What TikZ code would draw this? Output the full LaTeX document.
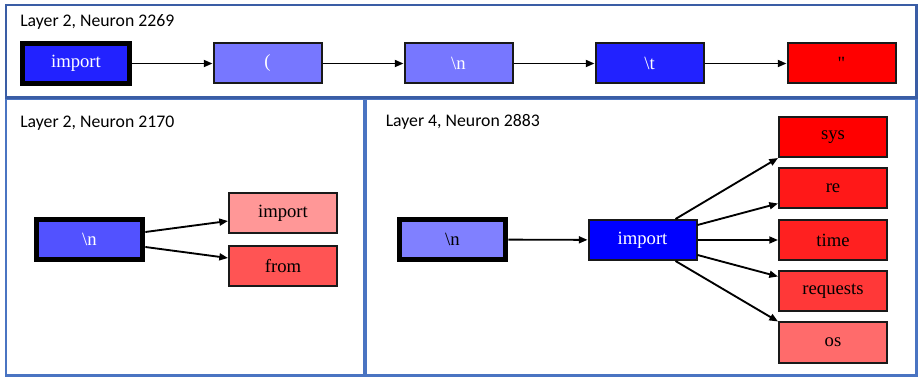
\documentclass[tikz,border=0pt]{standalone}
\usepackage{fontspec}
\setmainfont{Liberation Serif}
\newfontfamily\titlefont{Carlito}
\newfontfamily\quotefont{Liberation Serif}[Ligatures=TeXOff]
\usetikzlibrary{arrows.meta,calc}
\definecolor{frameA}{HTML}{3A5DA5}
\definecolor{frameB}{HTML}{4A74C2}
\definecolor{bDark}{HTML}{2222FF}
\definecolor{bMid}{HTML}{7777FF}
\definecolor{bMidB}{HTML}{8080FF}
\definecolor{bBL}{HTML}{5252FF}
\definecolor{bPure}{HTML}{0000FF}
\definecolor{rSys}{HTML}{FF0000}
\definecolor{rRe}{HTML}{FF1818}
\definecolor{rTime}{HTML}{FF2020}
\definecolor{rReq}{HTML}{FF3838}
\definecolor{rOs}{HTML}{FF6B6B}
\definecolor{rImp}{HTML}{FF9797}
\definecolor{rFrom}{HTML}{FF5454}
\definecolor{rQuote}{HTML}{FF0000}
\tikzset{
  tok/.style={draw=black!90, line width=1.5pt, minimum width=81pt, minimum height=30pt,
    inner sep=0pt, font=\fontsize{14}{16}\selectfont},
  tokthick/.style={tok, draw=black, line width=3.8pt, minimum width=80pt, minimum height=30pt},
  title/.style={anchor=base west, inner sep=0pt, font=\titlefont\fontsize{13.3}{15}\selectfont},
  conn/.style={line width=1.4pt, -{Triangle[length=6.5pt,width=5.2pt]}},
  panelA/.style={draw=frameA, line width=2.2pt},
  panelB/.style={draw=frameB, line width=2pt}
}
\begin{document}
\begin{tikzpicture}[x=0.75pt,y=-0.75pt]
\useasboundingbox (0,0) rectangle (920,377);
\fill[white] (0,0) rectangle (920,377);
% panels
\draw[panelB] (6,98.5) rectangle (364.5,375.5);
\draw[panelB] (365.5,98.5) rectangle (916.5,375.5);
\draw[panelA] (6,5) rectangle (916.5,97.5);
% titles
\node[title] (t1) at (20,27) {Layer 2, Neuron 2269};
\node[title] (t2) at (20,128) {Layer 2, Neuron 2170};
\node[title] (t3) at (385.5,127) {Layer 4, Neuron 2883};
% top row
\node[tokthick, fill=bDark, text=white] (a1) at (76,63.5) {import};
\node[tok, fill=bMid, text=white] (a2) at (267.5,63.5) {(};
\node[tok, fill=bMid, text=white] (a3) at (458.5,63.5) {\textbackslash n};
\node[tok, fill=bDark, text=white] (a4) at (649.5,63.5) {\textbackslash t};
\node[tok, fill=rQuote, text=black] (a5) at (841.5,63.5) {\quotefont "};
\draw[conn] (a1) -- (a2);
\draw[conn] (a2) -- (a3);
\draw[conn] (a3) -- (a4);
\draw[conn] (a4) -- (a5);
% bottom-left
\node[tokthick, fill=bBL, text=white] (b1) at (89.5,239.5) {\textbackslash n};
\node[tok, fill=rImp, text=black] (b2) at (283,213) {import};
\node[tok, fill=rFrom, text=black] (b3) at (283,266) {from};
\draw[conn] ($(b1.east)+(0,-7.5)$) -- ($(b2.west)+(0,8)$);
\draw[conn] ($(b1.east)+(0,7.5)$) -- ($(b3.west)+(0,-8)$);
% bottom-right
\node[tokthick, fill=bMidB, text=black] (c1) at (452.5,239.5) {\textbackslash n};
\node[tok, fill=bPure, text=white] (c2) at (642.5,240) {import};
\node[tok, fill=rSys, text=black] (d1) at (833,137) {sys};
\node[tok, fill=rRe, text=black] (d2) at (833,188.5) {re};
\node[tok, fill=rTime, text=black] (d3) at (833,240) {time};
\node[tok, fill=rReq, text=black] (d4) at (833,291.5) {requests};
\node[tok, fill=rOs, text=black] (d5) at (833,342.5) {os};
\draw[conn] (c1) -- (c2);
\draw[conn] ($(c2.north east)+(-22,0)$) -- (d1.south west);
\draw[conn] ($(c2.north east)+(0,6)$) -- ($(d2.south west)+(0,-6)$);
\draw[conn] (c2) -- (d3);
\draw[conn] ($(c2.south east)+(0,-6)$) -- ($(d4.north west)+(0,6)$);
\draw[conn] ($(c2.south east)+(-22,0)$) -- (d5.north west);
\end{tikzpicture}
\end{document}
